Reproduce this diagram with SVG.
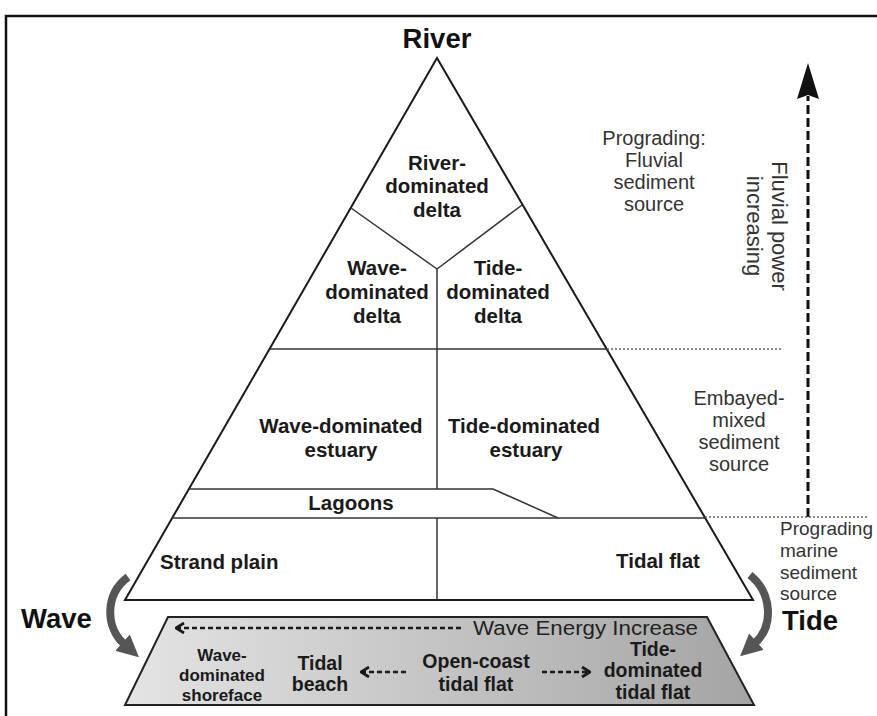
<svg xmlns="http://www.w3.org/2000/svg" width="877" height="716" viewBox="0 0 877 716">
<defs>
<style>
.b{font-family:"Liberation Sans",Arial,sans-serif;font-weight:bold;font-size:20.5px;fill:#1a1a1a;text-anchor:middle}
.n{font-family:"Liberation Sans",Arial,sans-serif;font-size:20px;fill:#333;text-anchor:middle}
.big{font-family:"Liberation Sans",Arial,sans-serif;font-weight:bold;font-size:27.5px;fill:#111}
.tb{font-family:"Liberation Sans",Arial,sans-serif;font-weight:bold;font-size:19.5px;fill:#1a1a1a;text-anchor:middle}
.edge{fill:none;stroke:#1a1a1a;stroke-width:2}
.inner{fill:none;stroke:#333;stroke-width:1.5}
.dot{fill:none;stroke:#666;stroke-width:1.5;stroke-dasharray:2 2}
.dash{fill:none;stroke:#1a1a1a;stroke-width:2.5;stroke-dasharray:5 3}
.curve{fill:none;stroke:#555;stroke-width:8}
</style>
<linearGradient id="shade" x1="0" y1="0" x2="1" y2="0">
<stop offset="0" stop-color="#e4e4e4"/>
<stop offset="1" stop-color="#a4a4a4"/>
</linearGradient>
<marker id="chev" viewBox="0 0 10 12" refX="9" refY="6" markerWidth="10" markerHeight="12" markerUnits="userSpaceOnUse" orient="auto-start-reverse">
<path d="M1,1 L9,6 L1,11" fill="none" stroke="#1a1a1a" stroke-width="2.8"/>
</marker>
<marker id="grayhead" viewBox="0 0 22 22" refX="2" refY="11" markerWidth="22" markerHeight="22" markerUnits="userSpaceOnUse" orient="auto">
<path d="M0,0 L22,11 L0,22 z" fill="#555"/>
</marker>
</defs>
<rect x="0" y="0" width="877" height="716" fill="#fff"/>
<path d="M6,716 V16 H877" fill="none" stroke="#111" stroke-width="2.5"/>

<g id="triangle">
<polygon class="edge" points="437,58 125,600 753,600"/>
<line class="inner" x1="351" y1="208" x2="437" y2="269"/>
<line class="inner" x1="522" y1="205" x2="437" y2="269"/>
<line class="inner" x1="437" y1="269" x2="437" y2="489"/>
<line class="inner" x1="437" y1="518" x2="437" y2="600"/>
<line class="inner" x1="270" y1="349" x2="607" y2="349"/>
<polyline class="inner" points="189,489 493,489 558,518"/>
<line class="inner" x1="172" y1="518" x2="705" y2="518"/>
<line class="dot" x1="607" y1="349" x2="782" y2="349"/>
<line class="dot" x1="705" y1="517" x2="868" y2="517"/>
</g>

<g id="river"><text class="big" x="437" y="48" text-anchor="middle">River</text></g>
<g id="river-delta"><text class="b" x="437"><tspan x="437" y="170">River-</tspan><tspan x="437" y="193">dominated</tspan><tspan x="437" y="217">delta</tspan></text></g>
<g id="wave-delta"><text class="b"><tspan x="377" y="275">Wave-</tspan><tspan x="377" y="299">dominated</tspan><tspan x="377" y="323">delta</tspan></text></g>
<g id="tide-delta"><text class="b"><tspan x="498" y="275">Tide-</tspan><tspan x="498" y="299">dominated</tspan><tspan x="498" y="323">delta</tspan></text></g>
<g id="wave-estuary"><text class="b"><tspan x="341" y="433">Wave-dominated</tspan><tspan x="341" y="457">estuary</tspan></text></g>
<g id="tide-estuary"><text class="b"><tspan x="524" y="433">Tide-dominated</tspan><tspan x="526" y="457">estuary</tspan></text></g>
<g id="lagoons"><text class="b" x="351" y="510">Lagoons</text></g>
<g id="strand-plain"><text class="b" x="160" y="569" style="text-anchor:start">Strand plain</text></g>
<g id="tidal-flat"><text class="b" x="658" y="568">Tidal flat</text></g>

<g id="fluvial-source"><text class="n"><tspan x="654" y="145">Prograding:</tspan><tspan x="654" y="167">Fluvial</tspan><tspan x="654" y="189">sediment</tspan><tspan x="654" y="211">source</tspan></text></g>
<g id="embayed-source"><text class="n"><tspan x="739" y="405">Embayed-</tspan><tspan x="739" y="427">mixed</tspan><tspan x="739" y="449">sediment</tspan><tspan x="739" y="471">source</tspan></text></g>
<g id="marine-source"><text class="n" style="text-anchor:start;font-size:19px"><tspan x="780" y="535">Prograding</tspan><tspan x="780" y="557">marine</tspan><tspan x="780" y="579">sediment</tspan><tspan x="780" y="600">source</tspan></text></g>
<g id="fluvial-power"><text class="n" transform="translate(772,226) rotate(90)" style="font-size:22px"><tspan x="0" y="0">Fluvial power</tspan><tspan x="0" y="25">increasing</tspan></text></g>

<g id="wave"><text class="big" x="21" y="628">Wave</text></g>
<g id="tide"><text class="big" x="782" y="630">Tide</text></g>

<g id="coast-band">
<polygon points="168,617 707,617 754,705 125,705" fill="url(#shade)" stroke="#222" stroke-width="2"/>
<text class="n" x="473" y="635" style="text-anchor:start;fill:#222" textLength="225" lengthAdjust="spacingAndGlyphs">Wave Energy Increase</text>
</g>
<g id="wave-shoreface"><text class="tb" style="font-size:17px"><tspan x="222" y="661">Wave-</tspan><tspan x="222" y="681">dominated</tspan><tspan x="222" y="701">shoreface</tspan></text></g>
<g id="tidal-beach"><text class="tb"><tspan x="320" y="670">Tidal</tspan><tspan x="320" y="691">beach</tspan></text></g>
<g id="open-coast"><text class="tb"><tspan x="476" y="668">Open-coast</tspan><tspan x="476" y="691">tidal flat</tspan></text></g>
<g id="tide-tidal-flat"><text class="tb"><tspan x="653" y="656">Tide-</tspan><tspan x="653" y="677">dominated</tspan><tspan x="653" y="699">tidal flat</tspan></text></g>

<g id="connectors">
<line x1="808" y1="517" x2="808" y2="96" fill="none" stroke="#111" stroke-width="3" stroke-dasharray="9 4"/>
<polygon points="808,63 819,99 808,95 797,99" fill="#111"/>
<path class="curve" d="M128,577 C104,595 106,628 124,644" marker-end="url(#grayhead)"/>
<path class="curve" d="M750,575 C772,593 774,626 755,643" marker-end="url(#grayhead)"/>
<line class="dash" x1="176" y1="628" x2="463" y2="628" marker-start="url(#chev)"/>
<line class="dash" x1="361" y1="672" x2="408" y2="672" marker-start="url(#chev)"/>
<line class="dash" x1="542" y1="672" x2="590" y2="672" marker-end="url(#chev)"/>
</g>
</svg>
